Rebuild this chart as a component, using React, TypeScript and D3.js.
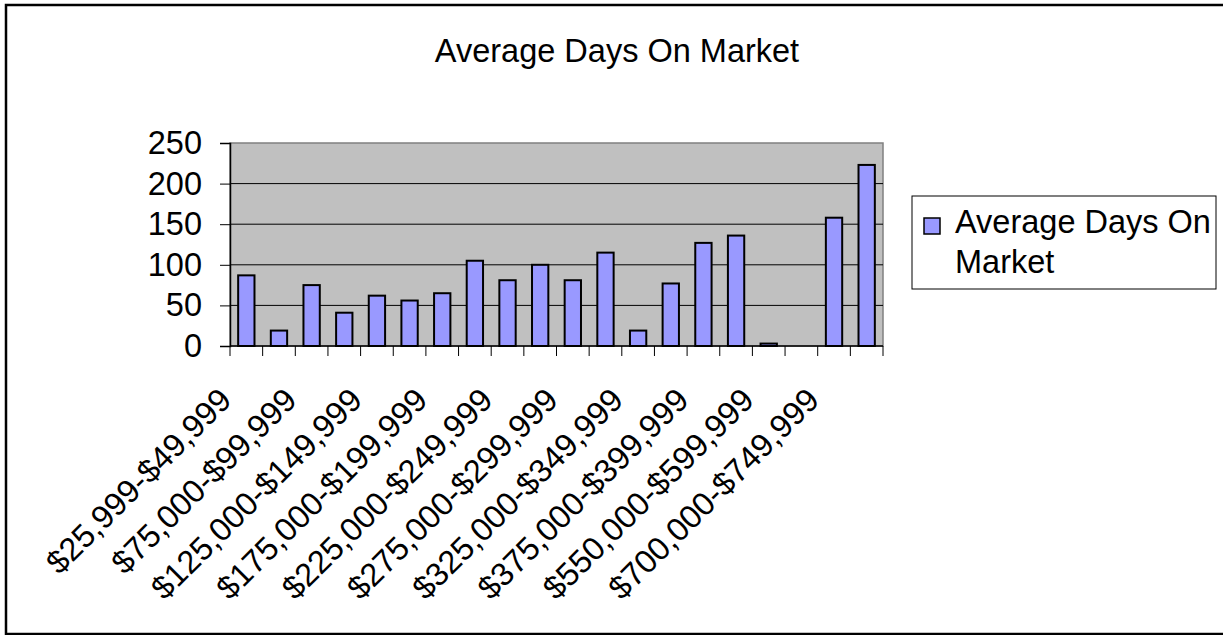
import React, { useEffect, useRef } from "react";
import * as d3 from "d3";

const title = "Average Days On Market";
const seriesName = "Average Days On Market";

const categories = [
  "$25,999-$49,999",
  "$50,000-$74,999",
  "$75,000-$99,999",
  "$100,000-$124,999",
  "$125,000-$149,999",
  "$150,000-$174,999",
  "$175,000-$199,999",
  "$200,000-$224,999",
  "$225,000-$249,999",
  "$250,000-$274,999",
  "$275,000-$299,999",
  "$300,000-$324,999",
  "$325,000-$349,999",
  "$350,000-$374,999",
  "$375,000-$399,999",
  "$400,000-$549,999",
  "$550,000-$599,999",
  "$600,000-$699,999",
  "$700,000-$749,999",
  "$750,000+",
];

const days = [87, 19, 75, 41, 62, 56, 65, 105, 81, 100, 81, 115, 19, 77, 127, 136, 3, 0, 158, 223];

const yTicks = [0, 50, 100, 150, 200, 250];

const App: React.FC = () => {
  const ref = useRef<SVGSVGElement>(null);

  useEffect(() => {
    if (!ref.current) return;
    const svg = d3.select(ref.current);
    svg.selectAll("*").remove();

    const font = "Arial, 'Liberation Sans', sans-serif";
    const fs = "32.5px";
    const plot = { left: 230, right: 883, top: 143, bottom: 346 };

    // outer chart border
    svg
      .append("rect")
      .attr("x", 6)
      .attr("y", 5)
      .attr("width", 1240)
      .attr("height", 629)
      .attr("fill", "white")
      .attr("stroke", "black")
      .attr("stroke-width", 2.5);

    svg
      .append("text")
      .attr("x", 617)
      .attr("y", 62)
      .attr("text-anchor", "middle")
      .style("font-family", font)
      .style("font-size", fs)
      .text(title);

    const x = d3
      .scaleBand()
      .domain(categories)
      .range([plot.left, plot.right])
      .paddingInner(0.5)
      .paddingOuter(0.25);

    const y = d3.scaleLinear().domain([0, 250]).range([plot.bottom, plot.top]);

    // plot area
    svg
      .append("rect")
      .attr("x", plot.left)
      .attr("y", plot.top)
      .attr("width", plot.right - plot.left)
      .attr("height", plot.bottom - plot.top)
      .attr("fill", "#C0C0C0")
      .attr("stroke", "#808080")
      .attr("stroke-width", 1.5);

    svg
      .append("g")
      .selectAll("line")
      .data(yTicks.filter((t) => t > 0 && t < 250))
      .enter()
      .append("line")
      .attr("x1", plot.left)
      .attr("x2", plot.right)
      .attr("y1", (d) => y(d))
      .attr("y2", (d) => y(d))
      .attr("stroke", "black")
      .attr("stroke-width", 1);

    const step = x.step();
    const rows = categories.map((c, i) => ({ c, v: days[i] }));

    svg
      .append("g")
      .selectAll("rect")
      .data(rows)
      .enter()
      .append("rect")
      .attr("x", (d) => x(d.c) || 0)
      .attr("y", (d) => y(d.v))
      .attr("width", x.bandwidth())
      .attr("height", (d) => plot.bottom - y(d.v))
      .attr("fill", "#9999FF")
      .attr("stroke", "black")
      .attr("stroke-width", 2);

    // y axis
    const yAxis = svg
      .append("g")
      .attr("transform", `translate(${plot.left},0)`)
      .call(d3.axisLeft(y).tickValues(yTicks).tickSize(10).tickPadding(18));
    yAxis.select(".domain").attr("stroke", "black").attr("stroke-width", 1.5);
    yAxis.selectAll("line").attr("stroke", "black");
    yAxis
      .selectAll("text")
      .style("font-family", font)
      .style("font-size", fs)
      .attr("fill", "black");

    // x axis
    svg
      .append("line")
      .attr("x1", plot.left)
      .attr("x2", plot.right)
      .attr("y1", plot.bottom)
      .attr("y2", plot.bottom)
      .attr("stroke", "black")
      .attr("stroke-width", 1.5);

    svg
      .append("g")
      .selectAll("line")
      .data(d3.range(categories.length + 1))
      .enter()
      .append("line")
      .attr("x1", (i) => plot.left + i * step)
      .attr("x2", (i) => plot.left + i * step)
      .attr("y1", plot.bottom)
      .attr("y2", plot.bottom + 10)
      .attr("stroke", "black");

    svg
      .append("g")
      .selectAll("text")
      .data(rows.filter((_, i) => i % 2 === 0))
      .enter()
      .append("text")
      .attr(
        "transform",
        (d) => `translate(${(x(d.c) || 0) + x.bandwidth() / 2 - 13},402) rotate(-45)`
      )
      .attr("text-anchor", "end")
      .style("font-family", font)
      .style("font-size", fs)
      .text((d) => d.c);

    // legend
    svg
      .append("rect")
      .attr("x", 912)
      .attr("y", 196)
      .attr("width", 304)
      .attr("height", 93)
      .attr("fill", "white")
      .attr("stroke", "black")
      .attr("stroke-width", 1);
    svg
      .append("rect")
      .attr("x", 924)
      .attr("y", 218)
      .attr("width", 16)
      .attr("height", 16)
      .attr("fill", "#9999FF")
      .attr("stroke", "black")
      .attr("stroke-width", 1.5);
    const words = seriesName.split(" ");
    const lt = svg
      .append("text")
      .style("font-family", font)
      .style("font-size", fs);
    lt.append("tspan").attr("x", 955).attr("y", 233).text(words.slice(0, 3).join(" "));
    lt.append("tspan").attr("x", 955).attr("y", 273).text(words.slice(3).join(" "));
  }, []);

  return (
    <svg
      ref={ref}
      width={1223}
      height={635}
      style={{ position: "absolute", left: 0, top: 0 }}
    />
  );
};

export default App;
